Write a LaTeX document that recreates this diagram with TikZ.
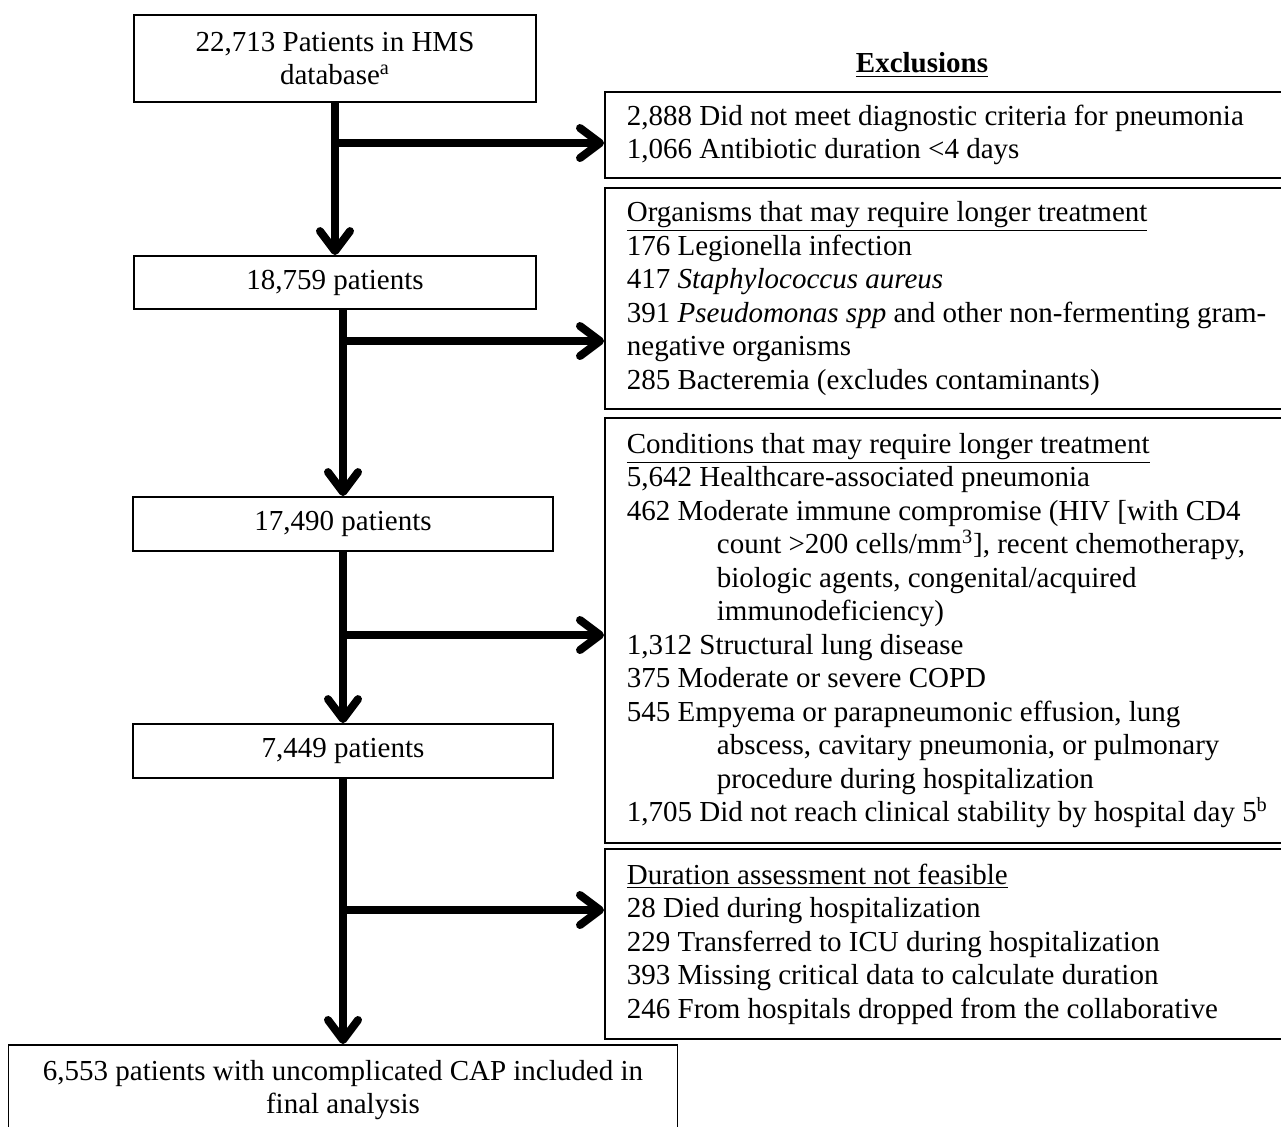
\documentclass[tikz,border=0pt]{standalone}
\usepackage{fontspec}
\setmainfont{Liberation Serif}
\usetikzlibrary{arrows.meta}
\newcommand{\hang}{\hspace*{45pt}}

\begin{document}
\begin{tikzpicture}[x=0.5pt,y=-0.5pt,
  font=\fontsize{14.5}{16.75}\selectfont,
  mainbox/.style={draw,line width=0.9pt,align=center,inner sep=0pt},
  exbox/.style={draw,line width=0.9pt,anchor=north west,align=flush left,text width=345pt,inner xsep=11pt,inner ysep=0pt},
  flow/.style={line width=4pt,-{Straight Barb[length=10pt,width=15pt,round]}}]

\useasboundingbox (0,0) rectangle (1281,1126);

% patient flow
\node[mainbox,minimum width=201pt,minimum height=43.5pt] (pop) at (335,58.5) {22,713 Patients in HMS\\database\textsuperscript{a}};
\node[mainbox,minimum width=201pt,minimum height=26.5pt] (s1) at (335,282.5) {18,759 patients};
\node[mainbox,minimum width=210pt,minimum height=27pt] (s2) at (343,524) {17,490 patients};
\node[mainbox,minimum width=210pt,minimum height=27pt] (s3) at (343,751) {7,449 patients};
\node[mainbox,minimum width=334.5pt,minimum height=45pt,anchor=north] (fin) at (343,1044) {6,553 patients with uncomplicated CAP included in\\final analysis};

% exclusions
\node (exhead) at (922,65) {\textbf{\underline{Exclusions}}};
\node[exbox,minimum height=43pt] (ex1) at (604,91) {2,888 Did not meet diagnostic criteria for pneumonia\\
1,066 Antibiotic duration <4 days};
\node[exbox,minimum height=110.5pt] (ex2) at (604,187) {\underline{Organisms that may require longer treatment}\\
176 Legionella infection\\
417 \textit{Staphylococcus aureus}\\
391 \textit{Pseudomonas spp} and other non-fermenting gram-\\
negative organisms\\
285 Bacteremia (excludes contaminants)};
\node[exbox,minimum height=212.5pt] (ex3) at (604,417) {\underline{Conditions that may require longer treatment}\\
5,642 Healthcare-associated pneumonia\\
462 Moderate immune compromise (HIV [with CD4\\
\hang count >200 cells/mm\textsuperscript{3}], recent chemotherapy,\\
\hang biologic agents, congenital/acquired\\
\hang immunodeficiency)\\
1,312 Structural lung disease\\
375 Moderate or severe COPD\\
545 Empyema or parapneumonic effusion, lung\\
\hang abscess, cavitary pneumonia, or pulmonary\\
\hang procedure during hospitalization\\
1,705 Did not reach clinical stability by hospital day 5\textsuperscript{b}};
\node[exbox,minimum height=95pt] (ex4) at (604,848) {\underline{Duration assessment not feasible}\\
28 Died during hospitalization\\
229 Transferred to ICU during hospitalization\\
393 Missing critical data to calculate duration\\
246 From hospitals dropped from the collaborative};

% arrows
\draw[flow] (pop.south) -- (s1.north);
\draw[flow] (s1.south -| s2.north) -- (s2.north);
\draw[flow] (s2.south) -- (s3.north);
\draw[flow] (s3.south) -- (fin.north);

\coordinate (j1) at (pop.south |- 0,143);
\coordinate (j2) at (s2.north |- 0,341);
\coordinate (j3) at (s2.south |- 0,635);
\coordinate (j4) at (s3.south |- 0,910);
\draw[flow] (j1) -- (j1 -| ex1.west);
\draw[flow] (j2) -- (j2 -| ex2.west);
\draw[flow] (j3) -- (j3 -| ex3.west);
\draw[flow] (j4) -- (j4 -| ex4.west);

\end{tikzpicture}
\end{document}
